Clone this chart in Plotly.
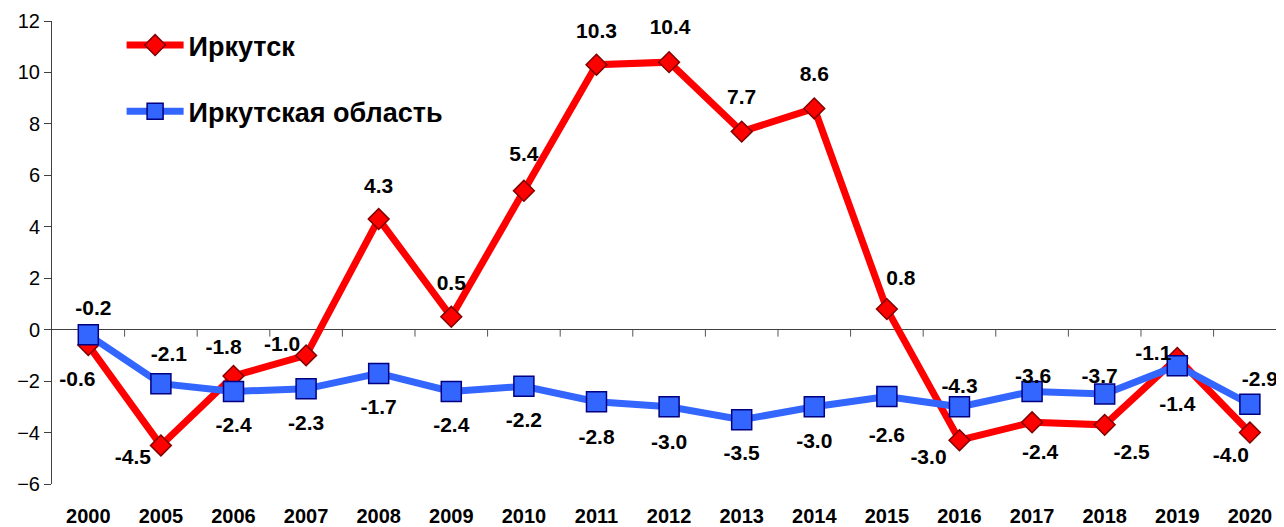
import plotly.graph_objects as go

# --- data ---
years = ["2000", "2005", "2006", "2007", "2008", "2009", "2010", "2011", "2012",
         "2013", "2014", "2015", "2016", "2017", "2018", "2019", "2020"]
irkutsk = [-0.6, -4.5, -1.8, -1.0, 4.3, 0.5, 5.4, 10.3, 10.4,
           7.7, 8.6, 0.8, -4.3, -3.6, -3.7, -1.1, -4.0]
oblast = [-0.2, -2.1, -2.4, -2.3, -1.7, -2.4, -2.2, -2.8, -3.0,
          -3.5, -3.0, -2.6, -3.0, -2.4, -2.5, -1.4, -2.9]
name_city = "Иркутск"
name_region = "Иркутская область"

# label offsets in pixels (dx, up) - as placed in the original chart
city_dx = [-11, -28, -10, -24, 0, 0, 0, 0, 1, 0, 0, 14, 0, 1, -5, -24, -19]
city_up = [-36, -13, 27, 10, 32, 32, 35, 32, 34, 33, 33, 30, 53, 45, 48, 3, -24]
reg_dx = [5, 8, 0, 0, 0, 0, 0, 0, 0, 0, 0, 0, -31, 8, 27, 0, 10]
reg_up = [25, 28, -36, -36, -36, -36, -36, -37, -37, -35, -36, -41, -52, -63, -60, -40, 24]

FONT = "Arial, 'Liberation Sans', sans-serif"
RED = "#FF0000"
BLUE = "#3366FF"
AXIS = "#404040"

X_RANGE = [-0.5, 16.47]
Y_RANGE = [-6, 12]
PLOT_W, PLOT_H = 1232, 467
PX_X = PLOT_W / (X_RANGE[1] - X_RANGE[0])   # pixels per category
PX_Y = PLOT_H / (Y_RANGE[1] - Y_RANGE[0])   # pixels per unit

idx = list(range(len(years)))

fig = go.Figure()
fig.add_trace(go.Scatter(
    x=idx, y=irkutsk, name="<b>" + name_city + "</b>", mode="lines+markers",
    line=dict(color=RED, width=7),
    marker=dict(symbol="diamond", size=16, color=RED, line=dict(color="#800000", width=1.5)),
    legendgroup="a",
))
fig.add_trace(go.Scatter(
    x=idx, y=oblast, name="<b>" + name_region + "</b>", mode="lines+markers",
    line=dict(color=BLUE, width=7),
    marker=dict(symbol="square", size=20, color=BLUE, line=dict(color="#000080", width=1.5)),
    legendgroup="b",
))

# tick marks hanging under the zero line, between categories
bounds = [i + 0.5 for i in idx[:-1]]
fig.add_trace(go.Scatter(
    x=bounds, y=[-3.5 / PX_Y] * len(bounds), mode="markers",
    marker=dict(symbol="line-ns", size=5, line=dict(color="#555555", width=1)),
    showlegend=False, hoverinfo="skip",
))

# value labels
for vals, dxs, ups in [(irkutsk, city_dx, city_up), (oblast, reg_dx, reg_up)]:
    fig.add_trace(go.Scatter(
        x=[i + dx / PX_X for i, dx in zip(idx, dxs)],
        y=[v + up / PX_Y for v, up in zip(vals, ups)],
        mode="text", text=[f"<b>{v:.1f}</b>" for v in vals],
        textposition="middle center",
        textfont=dict(size=21, color="black", family=FONT),
        showlegend=False, hoverinfo="skip", cliponaxis=False,
    ))

# page body has an 8px margin, so the figure is a bit smaller than the window
fig.update_layout(
    width=1276, height=519,
    paper_bgcolor="white", plot_bgcolor="white",
    margin=dict(l=44, r=0, t=13, b=39),
    font=dict(family=FONT, color="black"),
    showlegend=True,
    legend=dict(x=0.0565, y=1.0, xanchor="left", yanchor="top",
                bgcolor="rgba(0,0,0,0)", tracegroupgap=28, itemwidth=57,
                font=dict(size=27, family=FONT, color="black")),
    xaxis=dict(range=X_RANGE, tickvals=idx, ticktext=[f"<b>{y}</b>" for y in years],
               showline=False, showgrid=False, zeroline=False,
               ticks="outside", ticklen=14, tickcolor="rgba(0,0,0,0)",
               tickfont=dict(size=20, family=FONT)),
    yaxis=dict(range=Y_RANGE, dtick=2, showgrid=False,
               zeroline=True, zerolinecolor=AXIS, zerolinewidth=1,
               showline=True, linecolor=AXIS, linewidth=1,
               ticks="outside", ticklen=7, tickcolor=AXIS,
               tickfont=dict(size=20, family=FONT)),
)

fig.write_html("out.html")
